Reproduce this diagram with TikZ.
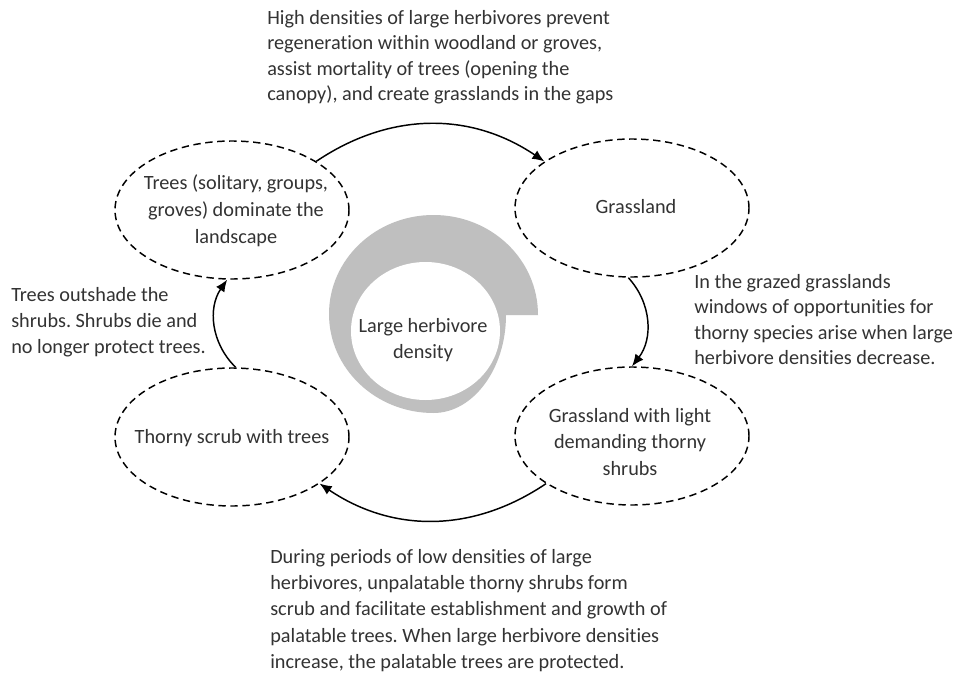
\documentclass[tikz,border=0pt]{standalone}
\usepackage{fontspec}
\setmainfont{Carlito}[Ligatures={NoCommon}]
\usetikzlibrary{shapes.geometric,arrows.meta}
\frenchspacing
\begin{document}
\begin{tikzpicture}[x=0.75pt,y=-0.75pt,
    stage/.style={ellipse,draw=black,line width=1.1pt,dash pattern=on 5.5pt off 3.5pt,
      minimum width=175.5pt,minimum height=103.5pt,inner sep=0pt},
    words/.style={font=\fontsize{15.2}{20.1}\selectfont,text=black!80,align=center,inner sep=0pt},
    note/.style={words,font=\fontsize{15.2}{19.1}\selectfont,align=left,anchor=north west},
    cycle/.style={-{Latex[length=9pt,width=7.5pt]},line width=1.1pt}]
  \fill[white] (0,0) rectangle (957,674);
  \useasboundingbox (0,0) rectangle (957,674);

  % Density ring in the middle
  \fill[black!25] (538,315) .. controls (538,259.3) and (491.2,215) .. (433.5,215)
    .. controls (375.8,215) and (329,259.3) .. (329,314)
    .. controls (329,368.7) and (375.8,413) .. (433.5,413)
    .. controls (473,413) and (506,369) .. (506,315) -- cycle;
  \fill[white] (425.5,331) ellipse [x radius=74.5, y radius=69];
  \node[words] (denslbl) at (423,340) {Large herbivore\\density};

  % Define stage positions
  \node[stage] (trees) at (232,210) {};
  \node[stage] (grass) at (632,208) {};
  \node[stage] (shrubs) at (632,436) {};
  \node[stage] (scrub) at (232,437) {};
  \node[words] (treeslbl) at (236,211) {Trees (solitary, groups,\\groves) dominate the\\landscape};
  \node[words] (grasslbl) at (636,207) {Grassland};
  \node[words] (shrubslbl) at (630,442) {Grassland with light\\demanding thorny\\shrubs};
  \node[words] (scrublbl) at (232,438) {Thorny scrub with trees};

  % Draw arrows
  \draw[cycle] (trees.30) to[bend left=34] (grass.152);
  \draw[cycle] (grass.267) to[bend left=40] (shrubs.90);
  \draw[cycle] (shrubs.209) to[bend left=34] (scrub.-28);
  \draw[cycle] (scrub.87) to[bend left=40] (trees.266);

  % Notes along the cycle
  \node[note] (topnote) at (267,10) {High densities of large herbivores prevent\\regeneration within woodland or groves,\\assist mortality of trees (opening the\\canopy), and create grasslands in the gaps};
  \node[note] (rightnote) at (694,274) {In the grazed grasslands\\windows of opportunities for\\thorny species arise when large\\herbivore densities decrease.};
  \node[note,font=\fontsize{15.2}{19.7}\selectfont] (bottomnote) at (270,549) {During periods of low densities of large\\herbivores, unpalatable thorny shrubs form\\scrub and facilitate establishment and growth of\\palatable trees. When large herbivore densities\\increase, the palatable trees are protected.};
  \node[note,font=\fontsize{15.2}{19.6}\selectfont] (leftnote) at (11,287) {Trees outshade the\\shrubs. Shrubs die and\\no longer protect trees.};
\end{tikzpicture}
\end{document}
